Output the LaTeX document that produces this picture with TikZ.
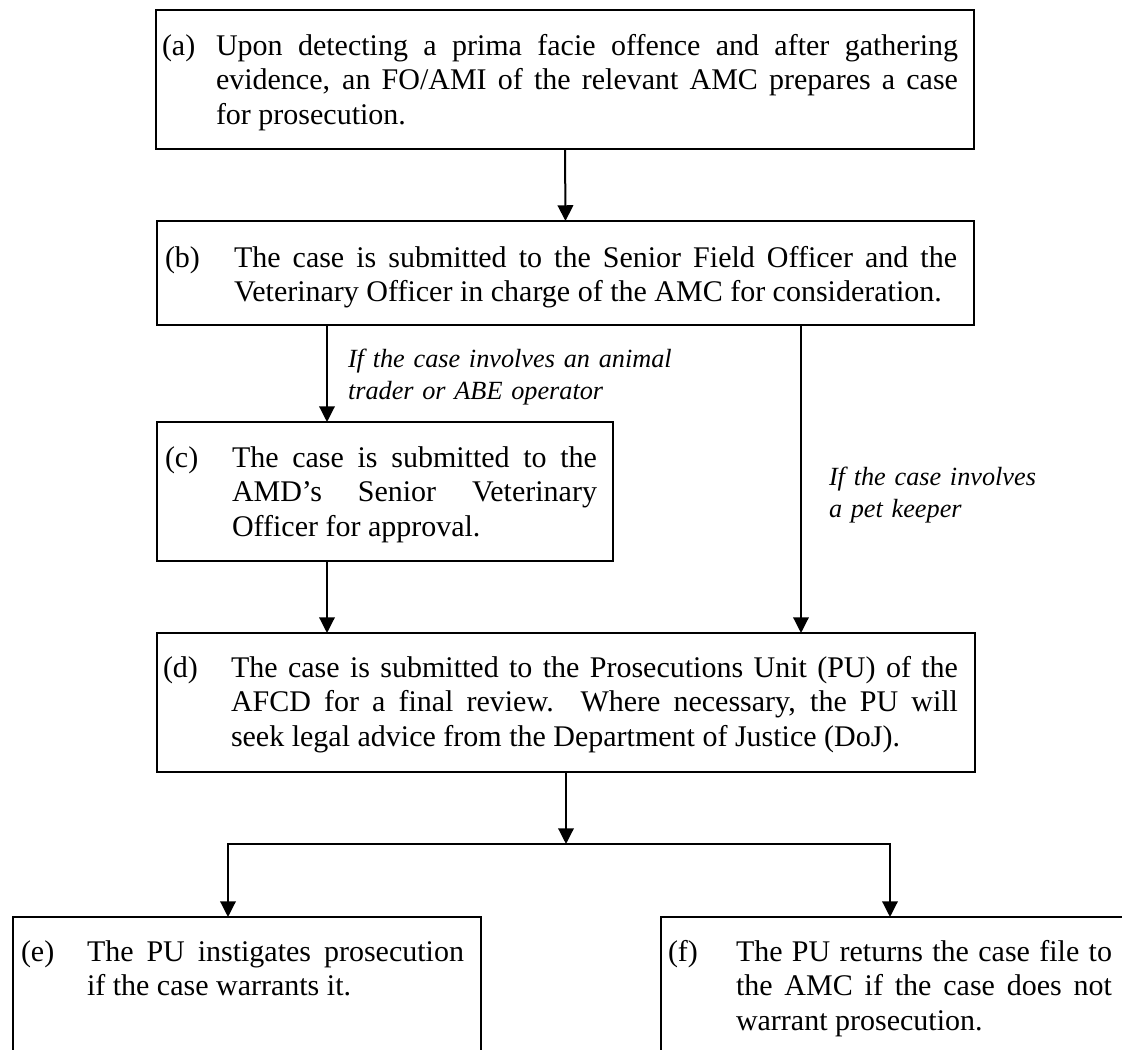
\documentclass[tikz,border=0pt]{standalone}
\usepackage{fontspec}
\setmainfont{Liberation Serif}
\usetikzlibrary{arrows.meta,calc}
\begin{document}
\begin{tikzpicture}[x=0.4pt,y=-0.4pt,
  font=\fontsize{12pt}{13.8pt}\selectfont,
  boxnode/.style={draw,line width=0.85pt,rectangle,anchor=north west,inner sep=0pt,outer sep=0pt},
  body/.style={anchor=base west,inner sep=0pt,outer sep=0pt,align=justify,
    execute at begin node={\hyphenpenalty=10000\exhyphenpenalty=10000\relax}},
  tag/.style={anchor=base west,inner sep=0pt,outer sep=0pt},
  cond/.style={anchor=base west,inner sep=0pt,outer sep=0pt,align=left,
    font=\fontsize{10.5pt}{12.8pt}\selectfont\itshape,
    execute at begin node={\hyphenpenalty=10000\relax}},
  arr/.style={line width=0.8pt,-{Triangle[length=6.3pt,width=6.2pt]}}]
\useasboundingbox (0,0) rectangle (1122,1049);
\clip (0,0) rectangle (1122,1049);

% boxes
\node[boxnode,minimum width=327.2pt,minimum height=55.6pt] (a) at (156,10) {};
\node[boxnode,minimum width=326.8pt,minimum height=41.6pt] (b) at (157,221) {};
\node[boxnode,minimum width=182.4pt,minimum height=55.6pt] (c) at (157,422) {};
\node[boxnode,minimum width=327.2pt,minimum height=55.6pt] (d) at (157,633) {};
\node[boxnode,minimum width=187.2pt,minimum height=80pt] (e) at (13,917) {};
\node[boxnode,minimum width=200pt,minimum height=80pt] (f) at (661,917) {};

% texts
\node[tag] (ta) at (162,55) {(a)};
\node[body,text width=296.8pt] (xa) at (216,55) {Upon detecting a prima facie offence and after gathering\linebreak evidence, an FO/AMI of the relevant AMC prepares a case\linebreak for prosecution.};

\node[tag] (tb) at (165,267) {(b)};
\node[body,text width=289.2pt] (xb) at (234,267) {The case is submitted to the Senior Field Officer and the\linebreak Veterinary Officer in charge of the AMC for consideration.};

\node[tag] (tc) at (165,467) {(c)};
\node[body,text width=146pt] (xcc) at (232,467) {The case is submitted to the\linebreak AMD’s Senior Veterinary\linebreak Officer for approval.};

\node[tag] (td) at (163,677) {(d)};
\node[body,text width=290.8pt] (xd) at (231,677) {The case is submitted to the Prosecutions Unit (PU) of the\linebreak AFCD for a final review. Where necessary, the PU will\linebreak seek legal advice from the Department of Justice (DoJ).};

\node[tag] (te) at (21,961) {(e)};
\node[body,text width=150.8pt] (xe) at (87,961) {The PU instigates prosecution\linebreak if the case warrants it.};

\node[tag] (tf) at (668,961) {(f)};
\node[body,text width=150.4pt] (xf) at (736,961) {The PU returns the case file to\linebreak the AMC if the case does not\linebreak warrant prosecution.};

% condition labels
\node[cond,text width=150pt] (l1) at (348,367) {If the case involves an animal\\trader or ABE operator};
\node[cond,text width=110pt] (l2) at (829,485) {If the case involves\\a pet keeper};

% connector helper coordinates
\coordinate (cx) at (327,0);
\coordinate (rx) at (801,0);
\coordinate (ex) at (228,0);
\coordinate (fx) at (890,0);
\coordinate (jm) at ($(d.south)+(0,72)$);

% connectors
\draw[arr] (a.south) -- (b.north);
\draw[arr] (cx |- b.south) -- (cx |- c.north);
\draw[arr] (cx |- c.south) -- (cx |- d.north);
\draw[arr] (rx |- b.south) -- (rx |- d.north);
\draw[arr] (d.south) -- (jm);
\draw[arr] (jm) -| (ex |- e.north);
\draw[arr] (jm) -| (fx |- f.north);
\end{tikzpicture}
\end{document}
